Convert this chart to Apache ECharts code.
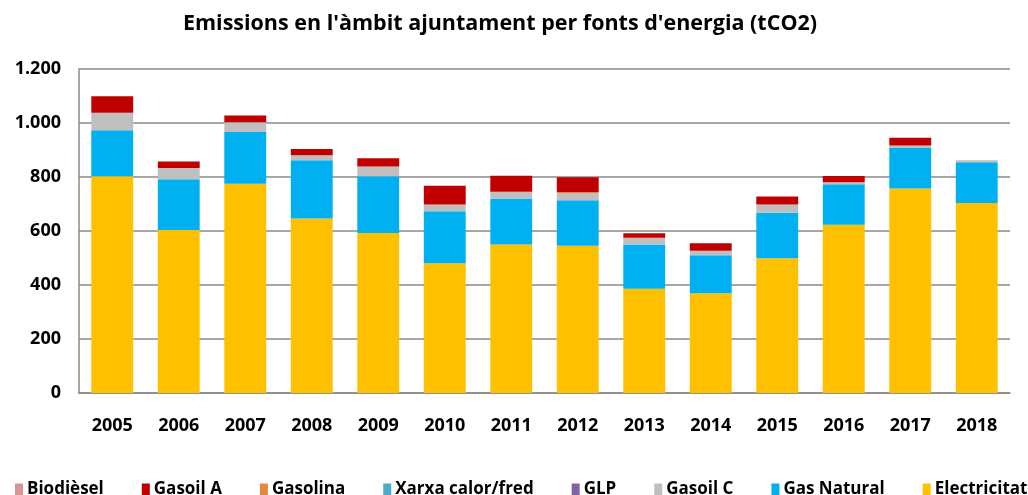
<!DOCTYPE html>
<html>
<head>
<meta charset="utf-8">
<script src="https://cdn.jsdelivr.net/npm/echarts@6/dist/echarts.min.js"></script>
<style>
  html, body { margin: 0; padding: 0; background: #fff; }
  #chart { width: 1028px; height: 495px; }
</style>
</head>
<body>
<div id="chart"></div>
<script>
const FONT = '"Open Sans", sans-serif'

// categories
const years = ['2005', '2006', '2007', '2008', '2009', '2010', '2011', '2012', '2013', '2014', '2015', '2016', '2017', '2018']

// series values (tCO2), bottom of the stack first
const electricitat = [803, 604, 775, 646, 593, 481, 550, 545, 386, 369, 499, 623, 757, 704]
const gasNatural = [170, 188, 192, 216, 210, 192, 170, 169, 164, 141, 169, 150, 152, 151]
const gasoilC = [65, 41, 36, 19, 36, 25, 25, 27, 25, 17, 30, 8, 8, 7]
const glp = [0, 0, 0, 0, 0, 0, 0, 0, 0, 0, 0, 0, 0, 0]
const xarxa = [0, 0, 0, 0, 0, 0, 0, 0, 0, 0, 0, 0, 0, 0]
const gasolina = [0, 0, 0, 0, 0, 0, 0, 3, 0, 0, 0, 0, 0, 0]
const gasoilA = [61, 24, 25, 23, 30, 70, 60, 55, 17, 28, 30, 23, 28, 0]
const biodiesel = [0, 0, 0, 0, 0, 0, 0, 0, 0, 0, 0, 0, 0, 0]

// legend order as in the picture
const legendNames = ['Biodièsel', 'Gasoil A', 'Gasolina', 'Xarxa calor/fred', 'GLP', 'Gasoil C', 'Gas Natural', 'Electricitat']

const stack = [
  { name: 'Electricitat', data: electricitat, color: '#FFC000' },
  { name: 'Gas Natural', data: gasNatural, color: '#00B0F0' },
  { name: 'Gasoil C', data: gasoilC, color: '#BFBFBF' },
  { name: 'GLP', data: glp, color: '#8064A2' },
  { name: 'Xarxa calor/fred', data: xarxa, color: '#4BACC6' },
  { name: 'Gasolina', data: gasolina, color: '#E2873B' },
  { name: 'Gasoil A', data: gasoilA, color: '#C00000' },
  { name: 'Biodièsel', data: biodiesel, color: '#D99694' }
]

const chart = echarts.init(document.getElementById('chart'))

chart.setOption({
  backgroundColor: '#FFFFFF',
  animation: false,
  title: {
    text: "Emissions en l'àmbit ajuntament per fonts d'energia (tCO2)",
    left: 495,
    textAlign: 'center',
    top: 8,
    textStyle: {
      fontFamily: FONT,
      fontSize: 21.5,
      fontWeight: 'bold',
      color: '#000'
    }
  },
  legend: {
    data: legendNames,
    left: 10,
    top: 476,
    width: 1400,
    itemWidth: 8,
    itemHeight: 12,
    itemGap: 38,
    icon: 'rect',
    textStyle: {
      fontFamily: FONT,
      fontSize: 17,
      fontWeight: 'bold',
      color: '#000',
      padding: [0, 0, 0, -1]
    }
  },
  grid: {
    left: 79,
    right: 18,
    top: 69,
    bottom: 102
  },
  xAxis: {
    type: 'category',
    data: years,
    axisTick: { show: false },
    axisLine: { lineStyle: { color: '#8a8a8a', width: 1.5 } },
    axisLabel: {
      margin: 24,
      fontFamily: FONT,
      fontSize: 18,
      fontWeight: 'bold',
      color: '#000'
    }
  },
  yAxis: {
    type: 'value',
    min: 0,
    max: 1200,
    interval: 200,
    axisLine: { show: true, lineStyle: { color: '#8a8a8a', width: 1.5 } },
    axisTick: { show: false },
    splitLine: { lineStyle: { color: '#8a8a8a', width: 1.5 } },
    axisLabel: {
      margin: 18,
      fontFamily: FONT,
      fontSize: 18,
      fontWeight: 'bold',
      color: '#000',
      formatter: v => v.toString().replace(/\B(?=(\d{3})+(?!\d))/g, '.')
    }
  },
  series: stack.map(s => ({
    name: s.name,
    type: 'bar',
    stack: 'total',
    data: s.data,
    barCategoryGap: '37%',
    itemStyle: { color: s.color }
  }))
})
</script>
</body>
</html>
